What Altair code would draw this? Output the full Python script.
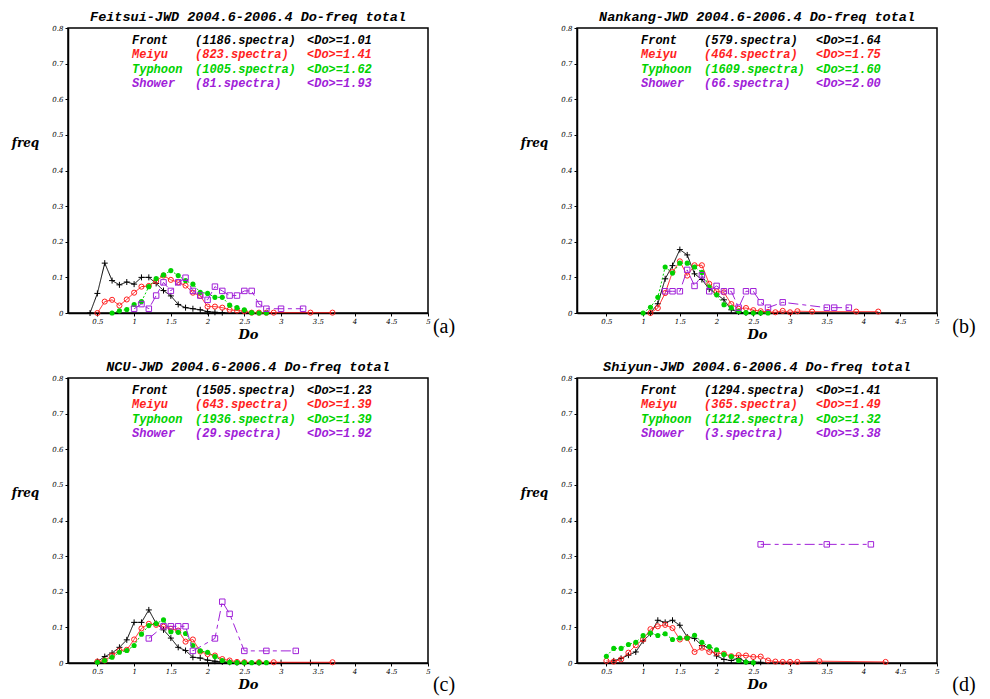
import altair as alt
import pandas as pd

# ---------------- data ----------------
titles = [
    "Feitsui-JWD 2004.6-2006.4 Do-freq total",
    "Nankang-JWD 2004.6-2006.4 Do-freq total",
    "NCU-JWD 2004.6-2006.4 Do-freq total",
    "Shiyun-JWD 2004.6-2006.4 Do-freq total",
]
panel_tags = ["(a)", "(b)", "(c)", "(d)"]
series_names = ["Front", "Meiyu", "Typhoon", "Shower"]
spectra = [[1186, 823, 1005, 81], [579, 464, 1609, 66], [1505, 643, 1936, 29], [1294, 365, 1212, 3]]
means = [["1.01", "1.41", "1.62", "1.93"], ["1.64", "1.75", "1.60", "2.00"],
         ["1.23", "1.39", "1.39", "1.92"], ["1.41", "1.49", "1.32", "3.38"]]

# Panel (a) Feitsui
a_front_x = [0.4, 0.5, 0.6, 0.7, 0.8, 0.9, 1.0, 1.1, 1.2, 1.3, 1.4, 1.5, 1.6, 1.7, 1.8, 1.9, 2.0, 2.1, 2.2]
a_front_y = [0.0, 0.055, 0.14, 0.091, 0.079, 0.087, 0.081, 0.100, 0.100, 0.083, 0.063, 0.048, 0.024, 0.015, 0.012, 0.009, 0.004, 0.002, 0.001]
a_meiyu_x = [0.5, 0.6, 0.7, 0.8, 0.9, 1.0, 1.1, 1.2, 1.3, 1.4, 1.5, 1.6, 1.7, 1.8, 1.9, 2.0, 2.1, 2.2, 2.3, 2.4, 2.5, 2.6, 2.7, 2.8, 2.9, 3.4, 3.7]
a_meiyu_y = [0.0, 0.032, 0.037, 0.021, 0.038, 0.057, 0.074, 0.076, 0.090, 0.105, 0.093, 0.086, 0.077, 0.057, 0.048, 0.018, 0.018, 0.015, 0.009, 0.007, 0.005, 0.001, 0.001, 0.001, 0.001, 0.001, 0.001]
a_typhoon_x = [0.7, 0.8, 0.9, 1.0, 1.1, 1.2, 1.3, 1.4, 1.5, 1.6, 1.7, 1.8, 1.9, 2.0, 2.1, 2.2, 2.3, 2.4, 2.5, 2.6, 2.7, 2.8]
a_typhoon_y = [0.0, 0.006, 0.010, 0.024, 0.032, 0.074, 0.097, 0.107, 0.119, 0.105, 0.091, 0.081, 0.058, 0.055, 0.044, 0.044, 0.022, 0.015, 0.009, 0.001, 0.0, 0.0]
a_shower_x = [1.0, 1.1, 1.2, 1.3, 1.4, 1.5, 1.6, 1.7, 1.8, 1.9, 2.0, 2.1, 2.2, 2.3, 2.4, 2.5, 2.6, 2.7, 2.8, 3.0, 3.3]
a_shower_y = [0.012, 0.025, 0.012, 0.049, 0.086, 0.062, 0.086, 0.099, 0.062, 0.049, 0.037, 0.074, 0.062, 0.049, 0.049, 0.062, 0.062, 0.025, 0.012, 0.012, 0.012]

# Panel (b) Nankang
b_front_x = [1.1, 1.2, 1.3, 1.4, 1.5, 1.6, 1.7, 1.8, 1.9, 2.0, 2.1, 2.2, 2.3, 2.4, 2.5, 2.6]
b_front_y = [0.0, 0.026, 0.096, 0.133, 0.178, 0.163, 0.110, 0.094, 0.067, 0.053, 0.037, 0.009, 0.003, 0.0, 0.0, 0.0]
b_meiyu_x = [1.1, 1.2, 1.3, 1.4, 1.5, 1.6, 1.7, 1.8, 1.9, 2.0, 2.1, 2.2, 2.3, 2.4, 2.5, 2.6, 2.7, 2.8, 2.9, 3.0, 3.1, 3.3, 3.9, 4.2]
b_meiyu_y = [0.0, 0.014, 0.056, 0.115, 0.145, 0.105, 0.134, 0.134, 0.082, 0.061, 0.058, 0.025, 0.012, 0.014, 0.008, 0.005, 0.003, 0.002, 0.006, 0.002, 0.005, 0.004, 0.004, 0.004]
b_typhoon_x = [1.0, 1.1, 1.2, 1.3, 1.4, 1.5, 1.6, 1.7, 1.8, 1.9, 2.0, 2.1, 2.2, 2.3, 2.4, 2.5, 2.6, 2.7]
b_typhoon_y = [0.0, 0.016, 0.044, 0.129, 0.112, 0.140, 0.140, 0.129, 0.114, 0.073, 0.051, 0.023, 0.015, 0.005, 0.001, 0.0, 0.0, 0.0]
b_shower_x = [1.3, 1.4, 1.5, 1.6, 1.7, 1.8, 1.9, 2.0, 2.1, 2.2, 2.3, 2.4, 2.5, 2.6, 2.7, 2.9, 3.5, 3.6, 3.8]
b_shower_y = [0.061, 0.061, 0.061, 0.121, 0.076, 0.106, 0.061, 0.076, 0.061, 0.061, 0.015, 0.061, 0.061, 0.030, 0.015, 0.030, 0.015, 0.015, 0.015]

# Panel (c) NCU
c_front_x = [0.5, 0.6, 0.7, 0.8, 0.9, 1.0, 1.1, 1.2, 1.3, 1.4, 1.5, 1.6, 1.7, 1.8, 1.9, 2.0, 2.1, 2.2, 2.3, 2.4, 2.5, 2.7, 3.0, 3.4]
c_front_y = [0.004, 0.018, 0.028, 0.044, 0.065, 0.114, 0.114, 0.149, 0.111, 0.093, 0.070, 0.044, 0.035, 0.016, 0.014, 0.008, 0.005, 0.003, 0.002, 0.001, 0.001, 0.001, 0.001, 0.001]
c_meiyu_x = [0.5, 0.6, 0.7, 0.8, 0.9, 1.0, 1.1, 1.2, 1.3, 1.4, 1.5, 1.6, 1.7, 1.8, 1.9, 2.0, 2.1, 2.2, 2.3, 2.4, 2.5, 2.7, 2.9, 3.7]
c_meiyu_y = [0.004, 0.007, 0.021, 0.035, 0.037, 0.066, 0.097, 0.110, 0.107, 0.102, 0.096, 0.091, 0.060, 0.066, 0.032, 0.025, 0.021, 0.011, 0.007, 0.003, 0.002, 0.002, 0.002, 0.002]
c_typhoon_x = [0.5, 0.6, 0.7, 0.8, 0.9, 1.0, 1.1, 1.2, 1.3, 1.4, 1.5, 1.6, 1.7, 1.8, 1.9, 2.0, 2.1, 2.2, 2.3, 2.4, 2.5, 2.6, 2.7, 2.8]
c_typhoon_y = [0.002, 0.007, 0.016, 0.030, 0.035, 0.049, 0.081, 0.105, 0.111, 0.121, 0.088, 0.086, 0.083, 0.049, 0.034, 0.030, 0.018, 0.007, 0.002, 0.001, 0.001, 0.001, 0.001, 0.001]
c_shower_x = [1.2, 1.4, 1.5, 1.6, 1.7, 1.8, 2.1, 2.2, 2.3, 2.5, 2.8, 3.2]
c_shower_y = [0.069, 0.103, 0.103, 0.103, 0.103, 0.034, 0.069, 0.172, 0.138, 0.034, 0.034, 0.034]

# Panel (d) Shiyun
d_front_x = [0.6, 0.7, 0.8, 0.9, 1.0, 1.1, 1.2, 1.3, 1.4, 1.5, 1.6, 1.7, 1.8, 1.9, 2.0, 2.1, 2.2, 2.3, 2.4, 2.5, 2.6]
d_front_y = [0.006, 0.013, 0.022, 0.031, 0.062, 0.082, 0.120, 0.114, 0.120, 0.106, 0.073, 0.069, 0.049, 0.043, 0.020, 0.010, 0.007, 0.013, 0.004, 0.003, 0.002]
d_meiyu_x = [0.5, 0.6, 0.7, 0.8, 0.9, 1.0, 1.1, 1.2, 1.3, 1.4, 1.5, 1.6, 1.7, 1.8, 1.9, 2.0, 2.1, 2.2, 2.3, 2.4, 2.5, 2.6, 2.7, 2.8, 2.9, 3.0, 3.1, 3.4, 4.3]
d_meiyu_y = [0.006, 0.004, 0.010, 0.029, 0.050, 0.066, 0.095, 0.103, 0.107, 0.098, 0.066, 0.070, 0.031, 0.043, 0.031, 0.028, 0.026, 0.019, 0.022, 0.021, 0.017, 0.018, 0.007, 0.004, 0.003, 0.003, 0.003, 0.005, 0.003]
d_typhoon_x = [0.5, 0.6, 0.7, 0.8, 0.9, 1.0, 1.1, 1.2, 1.3, 1.4, 1.5, 1.6, 1.7, 1.8, 1.9, 2.0, 2.1, 2.2, 2.3, 2.4, 2.5]
d_typhoon_y = [0.019, 0.041, 0.041, 0.052, 0.058, 0.077, 0.084, 0.077, 0.082, 0.066, 0.070, 0.070, 0.078, 0.058, 0.046, 0.037, 0.024, 0.018, 0.007, 0.003, 0.001]
d_shower_x = [2.6, 3.5, 4.1]
d_shower_y = [0.333, 0.333, 0.333]

panel_series = [
    [(a_front_x, a_front_y), (a_meiyu_x, a_meiyu_y), (a_typhoon_x, a_typhoon_y), (a_shower_x, a_shower_y)],
    [(b_front_x, b_front_y), (b_meiyu_x, b_meiyu_y), (b_typhoon_x, b_typhoon_y), (b_shower_x, b_shower_y)],
    [(c_front_x, c_front_y), (c_meiyu_x, c_meiyu_y), (c_typhoon_x, c_typhoon_y), (c_shower_x, c_shower_y)],
    [(d_front_x, d_front_y), (d_meiyu_x, d_meiyu_y), (d_typhoon_x, d_typhoon_y), (d_shower_x, d_shower_y)],
]

x_ticks = [0.5, 1, 1.5, 2, 2.5, 3, 3.5, 4, 4.5, 5]
y_ticks = [0, 0.1, 0.2, 0.3, 0.4, 0.5, 0.6, 0.7, 0.8]

# ---------------- styles ----------------
W, H = 360, 285
FONT = "DejaVu Serif"
MONO = "Liberation Mono"
colors = ["#000000", "#ff1e1e", "#00d200", "#a020d8"]
dashes = [[1, 0], [1, 0], [2, 2], [10, 4, 4, 4]]
shapes = ["M-1,0L1,0M0,-1L0,1", "circle", "circle", "square"]
filled = [False, False, True, False]
sizes = [36, 26, 26, 30]
legend_cols = [64, 127, 239]
legend_rows = [12, 26.3, 40.6, 54.9]
tag_pos = [(376, H + 14), (387, H + 14), (376, H + 22), (387, H + 22)]

x_enc = alt.X("D:Q",
              scale=alt.Scale(domain=[0.1, 5], nice=False, zero=False),
              axis=alt.Axis(values=x_ticks, format="~g", title="Do", grid=False,
                            labelFont=FONT, labelFontStyle="italic", labelFontSize=7,
                            labelColor="black", tickColor="black", tickSize=3,
                            labelPadding=1, domainColor="black", domainWidth=1.5,
                            titleFont=FONT, titleFontStyle="italic", titleFontWeight="bold",
                            titleFontSize=13, titleColor="black", titlePadding=4,
                            labelFlush=False))
y_enc = alt.Y("freq:Q",
              scale=alt.Scale(domain=[0, 0.8], nice=False, zero=True),
              axis=alt.Axis(values=y_ticks, format="~g", title="freq", grid=False,
                            labelFont=FONT, labelFontStyle="italic", labelFontSize=7,
                            labelColor="black", tickColor="black", tickSize=3,
                            labelPadding=2, domainColor="black", domainWidth=1.5,
                            titleFont=FONT, titleFontStyle="italic", titleFontWeight="bold",
                            titleFontSize=12, titleColor="black", titleAngle=0,
                            titleX=-43, titleY=114, titleAlign="center",
                            titleBaseline="middle", labelFlush=False))


def make_panel(i):
    layers = []
    for s in range(4):
        xs, ys = panel_series[i][s]
        df = pd.DataFrame({"D": xs, "freq": ys})
        base = alt.Chart(df).encode(x=x_enc, y=y_enc)
        layers.append(base.mark_line(color=colors[s], strokeWidth=1, strokeDash=dashes[s]))
        layers.append(base.mark_point(shape=shapes[s], filled=filled[s], size=sizes[s],
                                      color=colors[s], strokeWidth=1, opacity=1))
    one = alt.Data(values=[{"k": 0}])
    for s in range(4):
        texts = [series_names[s], f"({spectra[i][s]}.spectra)", f"<Do>={means[i][s]}"]
        for c in range(3):
            layers.append(
                alt.Chart(one).mark_text(align="left", baseline="middle", font=MONO,
                                         fontSize=12, fontStyle="italic", fontWeight="bold",
                                         color=colors[s])
                .encode(x=alt.value(legend_cols[c]), y=alt.value(legend_rows[s]),
                        text=alt.value(texts[c]))
            )
    tx, ty = tag_pos[i]
    layers.append(
        alt.Chart(one).mark_text(align="center", baseline="middle", font="Liberation Serif",
                                 fontSize=20, color="black")
        .encode(x=alt.value(tx), y=alt.value(ty), text=alt.value(panel_tags[i]))
    )
    return alt.layer(*layers).properties(
        width=W, height=H,
        title=alt.TitleParams(titles[i], font=MONO, fontSize=13.5, fontStyle="italic",
                              fontWeight="bold", color="black", anchor="middle", offset=1),
    )


chart = alt.concat(*[make_panel(i) for i in range(4)], columns=2,
                   spacing={"row": 65, "column": 149}, bounds="flush").properties(
    padding={"left": 2, "top": 0, "right": 0, "bottom": 0}
).configure_view(stroke="black", strokeWidth=1.5)

chart.save("out.html", embed_options={"renderer": "svg", "actions": False})
